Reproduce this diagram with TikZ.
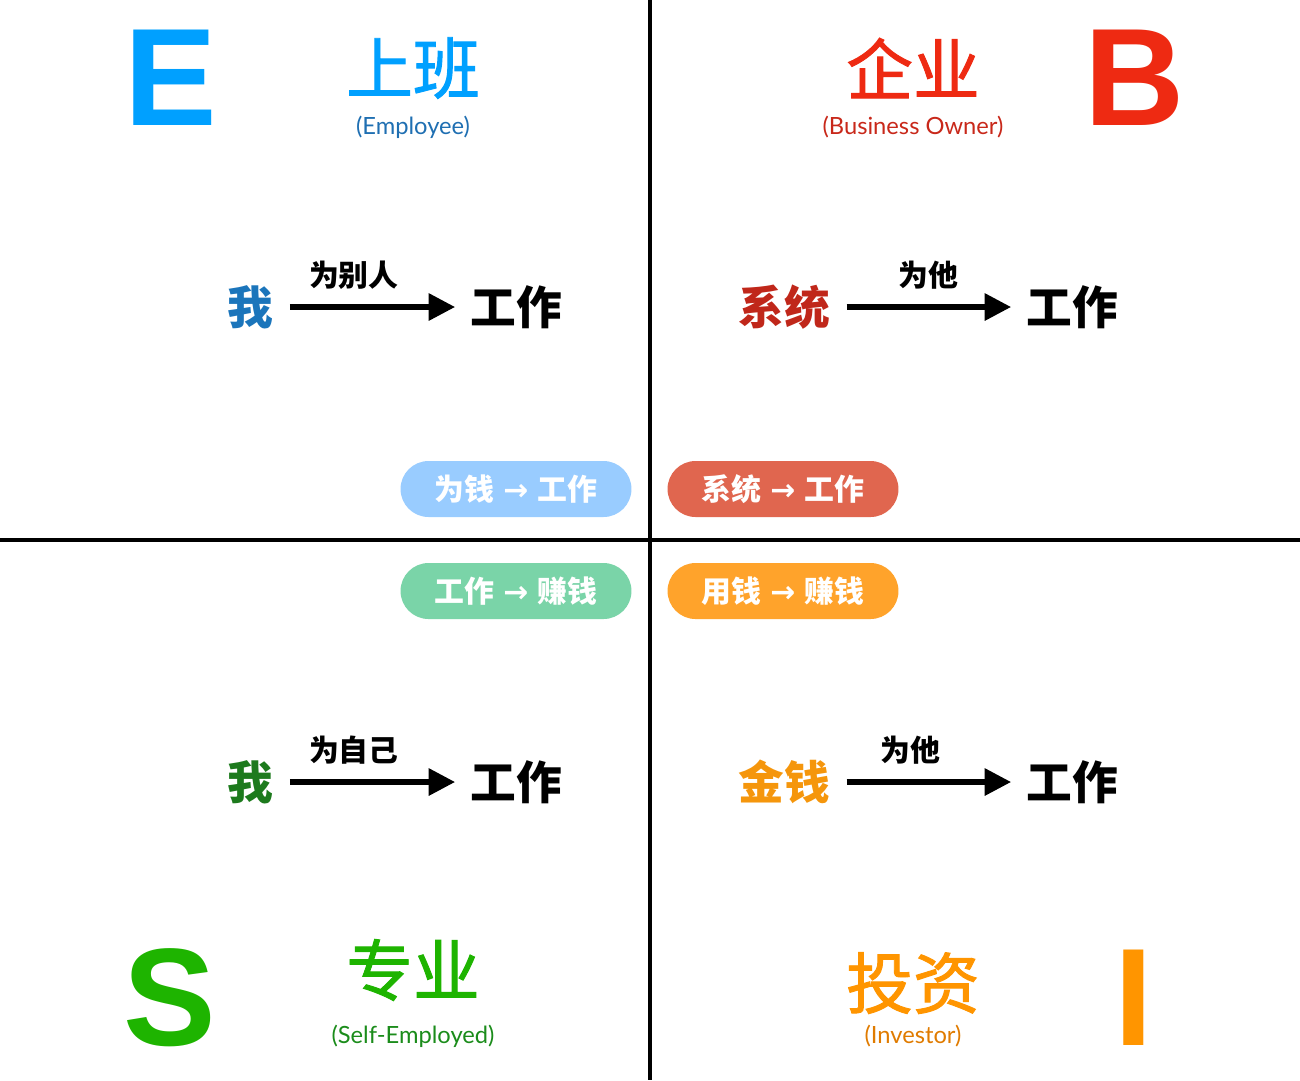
\documentclass[tikz,border=0pt]{standalone}
\usepackage{fontspec}
\usepackage{tikz}
\usetikzlibrary{arrows.meta}
\newfontfamily\cjk{Noto Sans CJK SC}
\newfontfamily\cjkm[FakeBold=1.4]{Noto Sans CJK SC}
\newfontfamily\heavy{Liberation Sans}
\newfontfamily\latinf{Lato}
\newfontfamily\arrowf{DejaVu Sans}
\definecolor{eblue}{HTML}{00A0FF}\definecolor{esub}{HTML}{1F6FB2}\definecolor{emine}{HTML}{1B75BB}
\definecolor{bred}{HTML}{EE2A12}\definecolor{bsub}{HTML}{C8281A}\definecolor{bsys}{HTML}{C0271A}
\definecolor{sgreen}{HTML}{1EB400}\definecolor{ssub}{HTML}{1B8C1B}\definecolor{smine}{HTML}{1D7A1D}
\definecolor{iorange}{HTML}{FF9500}\definecolor{isub}{HTML}{E07B00}\definecolor{imoney}{HTML}{F5960C}
\definecolor{pblue}{HTML}{99CCFF}\definecolor{pred}{HTML}{E0664F}\definecolor{pgreen}{HTML}{7AD4A8}\definecolor{porange}{HTML}{FFA32B}
\newcommand\tofw{\hspace{5pt}{\arrowf\bfseries\fontsize{17}{17}\selectfont →}\hspace{5pt}}
\begin{document}
\begin{tikzpicture}[x=0.02cm,y=-0.02cm,
  bigletter/.style={font=\heavy\bfseries\fontsize{79}{79}\selectfont,inner sep=0pt},
  title/.style={font=\cjkm\fontsize{38}{38}\selectfont,inner sep=0pt},
  sub/.style={font=\latinf\fontsize{13.5}{13.5}\selectfont,inner sep=0pt},
  who/.style={font=\cjk\bfseries\fontsize{26}{26}\selectfont,inner sep=0pt},
  lbl/.style={font=\cjk\bfseries\fontsize{17}{17}\selectfont,inner sep=0pt},
  flow/.style={line width=2.9pt,shorten <=9.5pt,shorten >=8.5pt,-{Triangle[length=15pt,width=15pt]}},
  pill/.style={rounded corners=0.56cm,minimum width=4.62cm,minimum height=1.12cm,text=white,font=\cjk\bfseries\fontsize{17}{17}\selectfont}]
\useasboundingbox (0,0) rectangle (1300,1080);
% quadrants
\draw[line width=2.3pt] (650,0)--(650,1080);
\draw[line width=2.3pt] (0,540)--(1300,540);
% E
\node[bigletter,text=eblue] (E) at (171,78) {E};
\node[title,text=eblue] (tE) at (413,68) {上班};
\node[sub,text=esub] (sE) at (413,127) {(Employee)};
\node[who,text=emine] (me1) at (250,307) {我};
\node[who] (work1) at (516,307) {工作};
\draw[flow] (me1)--node[lbl,pos=.41,above=.3cm]{为别人}(work1);
\node[pill,fill=pblue] (p1) at (516,489) {为钱\tofw{}工作};
% B
\node[bigletter,text=bred] (B) at (1135,78) {B};
\node[title,text=bred] (tB) at (913,68) {企业};
\node[sub,text=bsub] (sB) at (913,127) {(Business Owner)};
\node[who,text=bsys] (sys) at (784,307) {系统};
\node[who] (work2) at (1072,307) {工作};
\draw[flow] (sys)--node[lbl,pos=.5,above=.3cm]{为他}(work2);
\node[pill,fill=pred] (p2) at (783,489) {系统\tofw{}工作};
% S
\node[pill,fill=pgreen] (p3) at (516,591) {工作\tofw{}赚钱};
\node[who,text=smine] (me2) at (250,782) {我};
\node[who] (work3) at (516,782) {工作};
\draw[flow] (me2)--node[lbl,pos=.41,above=.3cm]{为自己}(work3);
\node[bigletter,text=sgreen] (S) at (170,998) {S};
\node[title,text=sgreen] (tS) at (413,970) {专业};
\node[sub,text=ssub] (sS) at (413,1036) {(Self-Employed)};
% I
\node[pill,fill=porange] (p4) at (783,591) {用钱\tofw{}赚钱};
\node[who,text=imoney] (money) at (784,782) {金钱};
\node[who] (work4) at (1072,782) {工作};
\draw[flow] (money)--node[lbl,pos=.41,above=.3cm]{为他}(work4);
\node[bigletter,text=iorange] (I) at (1134,998) {I};
\node[title,text=iorange] (tI) at (913,983) {投资};
\node[sub,text=isub] (sI) at (913,1036) {(Investor)};
\end{tikzpicture}
\end{document}
